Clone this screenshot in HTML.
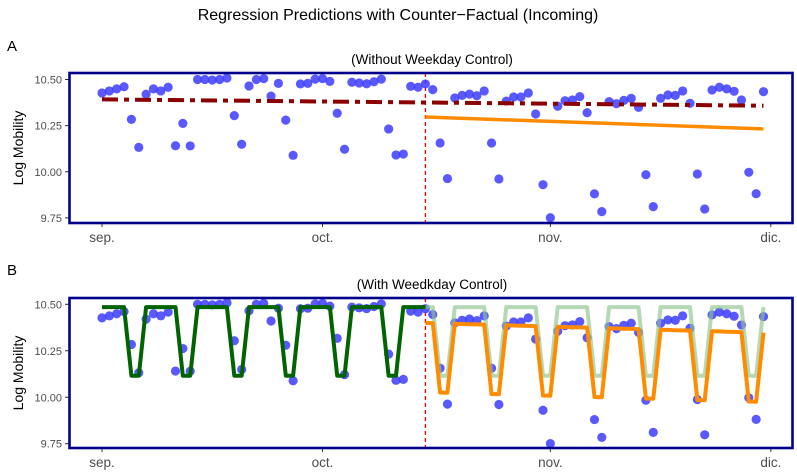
<!DOCTYPE html>
<html><head><meta charset="utf-8"><style>
body{margin:0;background:#fff;}
svg{display:block;font-family:"Liberation Sans",Arial,sans-serif;}
</style></head><body>
<svg id="chart" width="797" height="473" viewBox="0 0 797 473" xmlns="http://www.w3.org/2000/svg">
<text x="398" y="20" text-anchor="middle" font-size="16" fill="#000">Regression Predictions with Counter−Factual (Incoming)</text>
<text x="7" y="51" font-size="15" fill="#000">A</text>
<text x="432" y="64" text-anchor="middle" font-size="13.5" fill="#000">(Without Weekday Control)</text>
<text x="7" y="275" font-size="15" fill="#000">B</text>
<text x="432" y="289" text-anchor="middle" font-size="13.5" fill="#000">(With Weedkday Control)</text>
<text transform="translate(23,148) rotate(-90)" text-anchor="middle" font-size="14" fill="#000">Log Mobility</text>
<text transform="translate(23,373) rotate(-90)" text-anchor="middle" font-size="14" fill="#000">Log Mobility</text>
<g id="pa"></g>
<g id="pb"></g>
</svg>
<script>
const obs = [10.427,10.438,10.449,10.461,10.284,10.132,10.42,10.449,10.438,10.458,10.141,10.262,10.14,10.50,10.50,10.497,10.50,10.508,10.304,10.149,10.465,10.50,10.505,10.41,10.479,10.28,10.089,10.476,10.479,10.502,10.505,10.49,10.317,10.122,10.485,10.481,10.477,10.488,10.502,10.232,10.091,10.096,10.463,10.458,10.476,10.445,10.156,9.963,10.40,10.414,10.421,10.412,10.438,10.156,9.961,10.383,10.405,10.405,10.427,10.313,9.93,9.751,10.355,10.385,10.389,10.407,10.32,9.88,9.784,10.38,10.369,10.387,10.398,10.349,9.984,9.811,10.398,10.416,10.414,10.438,10.371,9.988,9.798,10.443,10.458,10.449,10.436,10.389,9.997,9.881,10.434];
const xTickDays = [0,30,61,91];
const xTickLabels = ["sep.","oct.","nov.","dic."];
const yTicks = [9.75,10.00,10.25,10.50];
const yTickLabels = ["9.75","10.00","10.25","10.50"];
const interventionDay = [44];
// Panel A: [startDay, endDay, startValue, endValue]
const trendNoCtrl = [0,90,10.392,10.358];
const postNoCtrl = [44,90,10.297,10.232];
// Panel B: weekday effects (day index mod 7), levels
const weekdayEffect = [0,0,0,0,-0.369,-0.369,0];
const preLevel = [10.485];
const preSlope = [0];
const postLevel = [10.40];
const postSlope = [-0.00115];
const postWeekendExtra = [-0.003];

const NS="http://www.w3.org/2000/svg";
const X = d => 102 + 7.35*d;
function mk(tag, attrs, parent){const e=document.createElementNS(NS,tag);for(const k in attrs)e.setAttribute(k,attrs[k]);parent.appendChild(e);return e;}

function panel(g, top, Y, name){
  const bottom = top+150;
  mk('rect',{x:69.5,y:top,width:723,height:150,fill:'#fff',stroke:'none'},g);
  yTicks.forEach((v,i)=>{
    const t=mk('text',{x:62,y:Y(v)+4,'text-anchor':'end','font-size':11,fill:'#4d4d4d'},g);
    t.textContent=yTickLabels[i];
    
    
    mk('line',{x1:65,x2:69,y1:Y(v),y2:Y(v),stroke:'#333','stroke-width':1},g);
  });
  xTickDays.forEach((d,i)=>{
    mk('line',{x1:X(d),x2:X(d),y1:bottom,y2:bottom+4,stroke:'#333','stroke-width':1},g);
    const t=mk('text',{x:X(d),y:bottom+19,'text-anchor':'middle','font-size':13.5,fill:'#4d4d4d'},g);
    t.textContent=xTickLabels[i];
    
    
  });
  const vl=mk('line',{x1:X(interventionDay[0]),x2:X(interventionDay[0]),y1:top,y2:bottom,stroke:'#ff0000','stroke-width':1.3,'stroke-dasharray':'4,3'},g);
  
  
}
function points(g,Y,name){
  obs.forEach((v,d)=>{
    const c=mk('circle',{cx:X(d),cy:Y(v),r:4.6,fill:'#3c3cff','fill-opacity':0.85},g);
    
    
  });
}
function frame(g,top,name){
  const f=mk('rect',{x:69.5,y:top,width:723,height:150,fill:'none',stroke:'#00008b','stroke-width':2.6},g);
  
  
}
function poly(g,pts,style,nm){
  const p=mk('polyline',Object.assign({points:pts.map(q=>q[0].toFixed(1)+','+q[1].toFixed(1)).join(' '),fill:'none','stroke-linejoin':'round'},style),g);
  
  
}

// Panel A
const ga=document.getElementById('pa');
const YA = v => 79.5 + (10.5-v)*184.5;
panel(ga,73,YA,'panel-a');
points(ga,YA,'panel-a');
poly(ga,[[X(trendNoCtrl[0]),YA(trendNoCtrl[2])],[X(trendNoCtrl[1]),YA(trendNoCtrl[3])]],{stroke:'#8b0000','stroke-width':4,'stroke-dasharray':'16,6,5,6'},'panel-a-trend-line');
poly(ga,[[X(postNoCtrl[0]),YA(postNoCtrl[2])],[X(postNoCtrl[1]),YA(postNoCtrl[3])]],{stroke:'#ff8c00','stroke-width':3.5},'panel-a-post-prediction-line');
frame(ga,73,'panel-a');

// Panel B
const gb=document.getElementById('pb');
const YB = v => 304.3 + (10.5-v)*185.9;
panel(gb,298,YB,'panel-b');
points(gb,YB,'panel-b');
const pre=[],cf=[],post=[];
for(let d=0; d<=interventionDay[0]; d++){pre.push([X(d),YB(preLevel[0]+preSlope[0]*d+weekdayEffect[d%7])]);}
for(let d=interventionDay[0]; d<obs.length; d++){
  cf.push([X(d),YB(preLevel[0]+preSlope[0]*d+weekdayEffect[d%7])]);
  const we=weekdayEffect[d%7];
  post.push([X(d),YB(postLevel[0]+postSlope[0]*(d-interventionDay[0])+we+(we<0?postWeekendExtra[0]:0))]);
}
poly(gb,cf,{stroke:'#8cc48c','stroke-opacity':0.65,'stroke-width':4},'panel-b-counterfactual-line');
poly(gb,post,{stroke:'#ff8c00','stroke-width':4},'panel-b-post-prediction-line');
poly(gb,pre,{stroke:'#006400','stroke-width':4},'panel-b-pre-fit-line');
frame(gb,298,'panel-b');
</script>
</body></html>
